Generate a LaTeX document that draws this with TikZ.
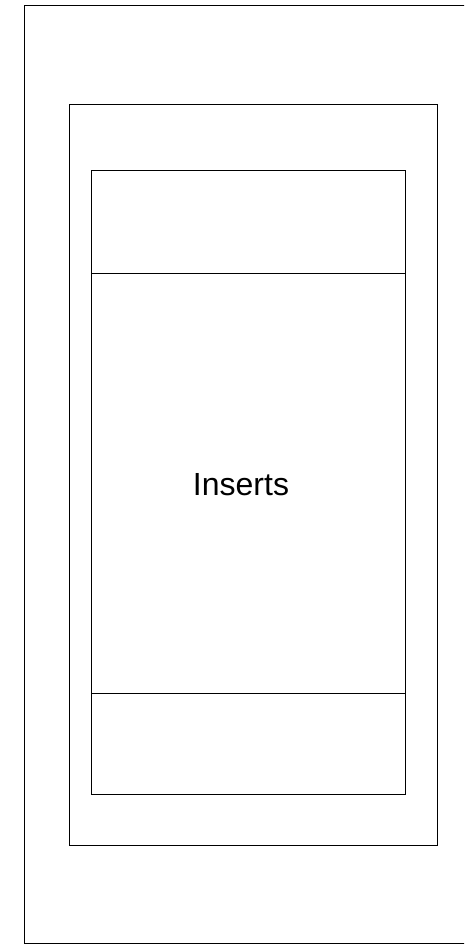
\documentclass[tikz,border=0pt]{standalone}
\usepackage{fontspec}
\setmainfont{Liberation Sans}
\begin{document}
\begin{tikzpicture}[x=1pt,y=1pt,
  frame/.style={draw=black,line width=1pt,fill=none},
  label/.style={font=\fontsize{32}{38}\selectfont,inner sep=0pt}]
\useasboundingbox (0,0) rectangle (464,945);
\clip (0,0) rectangle (464,945);
\coordinate (oSW) at (24,1);
\coordinate (oNE) at (470,939);
\draw[frame] (oSW) rectangle (oNE);
\coordinate (mSW) at (69,99);
\coordinate (mNE) at (437,840);
\draw[frame] (mSW) rectangle (mNE);
\coordinate (iSW) at (91,150);
\coordinate (iNE) at (405,774);
\draw[frame] (iSW) rectangle (iNE);
\coordinate (topL) at (91,671);
\coordinate (topR) at (405,671);
\coordinate (botL) at (91,251);
\coordinate (botR) at (405,251);
\draw[frame] (topL) -- (topR);
\draw[frame] (botL) -- (botR);
\node[label] (inserts) at (241,460) {Inserts};
\end{tikzpicture}
\end{document}
